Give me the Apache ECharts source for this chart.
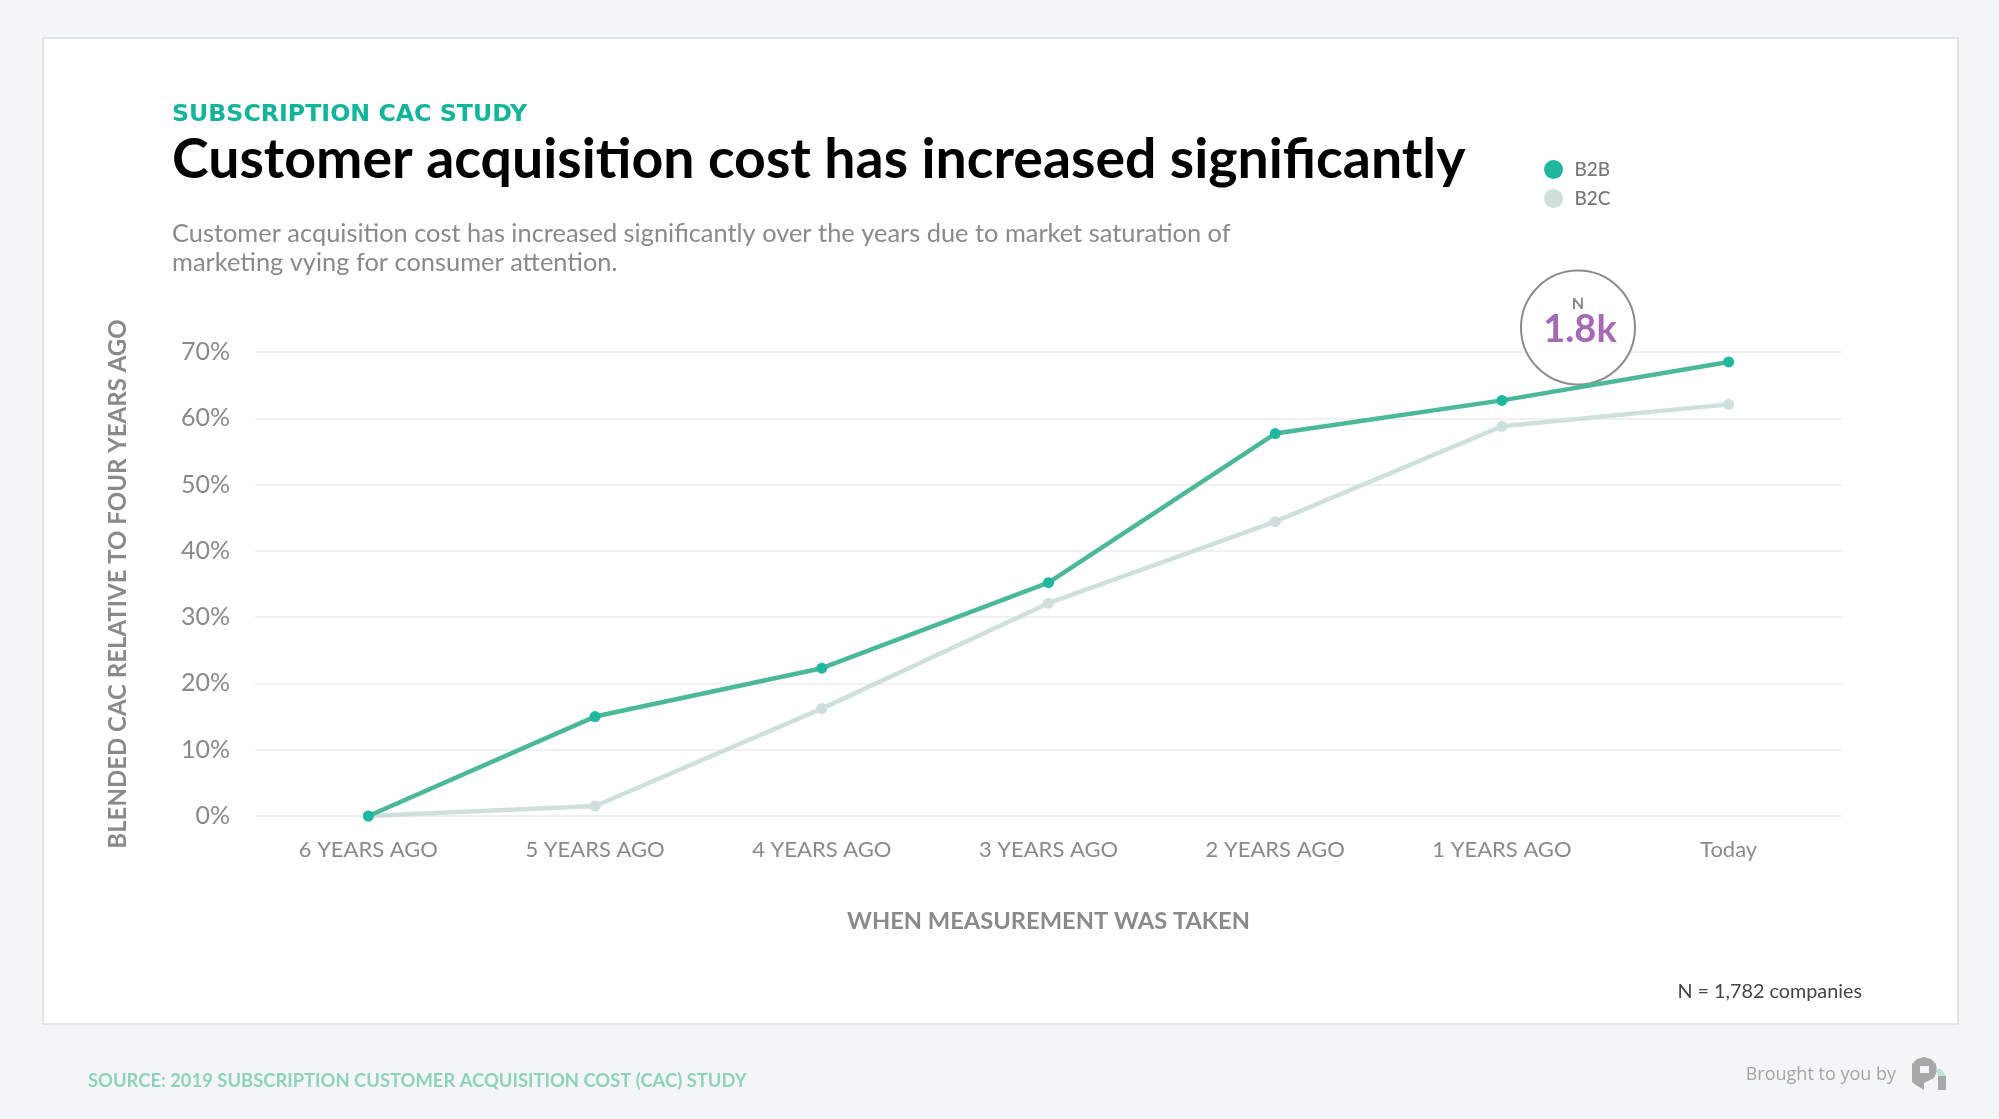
<!DOCTYPE html>
<html>
<head>
<meta charset="utf-8">
<title>Subscription CAC study</title>
<style>
html, body { margin: 0; padding: 0; background: #f4f5f7; }
#chart { width: 1999px; height: 1119px; }
</style>
<script src="https://cdn.jsdelivr.net/npm/echarts@6/dist/echarts.min.js"></script>
</head>
<body>
<div id="chart"></div>
<script>
// values
var categories = ["6 YEARS AGO", "5 YEARS AGO", "4 YEARS AGO", "3 YEARS AGO", "2 YEARS AGO", "1 YEARS AGO", "Today"];
var b2b = [0, 15, 22.3, 35.2, 57.7, 62.7, 68.5];
var b2c = [0, 1.5, 16.2, 32.1, 44.4, 58.8, 62.1];

var green = "#4ab899";
var greenDot = "#1fb89f";
var pale = "#cfdfdb";
var grey = "#8a8a8a";
var font = "Lato";

var chart = echarts.init(document.getElementById("chart"));

var option = {
    backgroundColor: "#f4f5f7",
    animation: false,
    textStyle: { fontFamily: font },
    title: [
        { text: "SUBSCRIPTION CAC STUDY", left: 172, top: 103, padding: 0, textStyle: { fontFamily: "DejaVu Sans", fontSize: 23.7, fontWeight: "bold", color: "#12b59a" } },
        { text: "Customer acquisition cost has increased significantly", left: 172, top: 133, padding: 0, textStyle: { fontFamily: font, fontSize: 55.4, fontWeight: "bold", color: "#000" } },
        { text: "Customer acquisition cost has increased significantly over the years due to market saturation of\nmarketing vying for consumer attention.", left: 172, top: 219, padding: 0, textStyle: { fontFamily: font, fontSize: 25.4, fontWeight: "normal", color: grey, lineHeight: 29 } }
    ],
    legend: {
        orient: "vertical",
        left: 1544,
        top: 160,
        padding: 0,
        itemWidth: 22,
        itemHeight: 19,
        itemGap: 10,
        icon: "circle",
        textStyle: { fontFamily: font, fontSize: 19, fontWeight: 500, color: "#777", padding: [0, 0, 0, 5] },
        data: ["B2B", "B2C"]
    },
    grid: { left: 255, top: 352, width: 1587, height: 464 },
    xAxis: {
        type: "category",
        data: categories,
        name: "WHEN MEASUREMENT WAS TAKEN",
        nameLocation: "middle",
        nameGap: 93,
        nameTextStyle: { fontFamily: font, fontSize: 23.7, fontWeight: "bold", color: grey },
        axisLine: { show: false },
        axisTick: { show: false },
        axisLabel: { fontFamily: font, fontSize: 22, color: grey, margin: 22.5 }
    },
    yAxis: {
        type: "value",
        min: 0,
        max: 70,
        interval: 10,
        name: "BLENDED CAC RELATIVE TO FOUR YEARS AGO",
        nameLocation: "middle",
        nameGap: 124.5,
        nameTextStyle: { fontFamily: font, fontSize: 24, fontWeight: "bold", color: grey },
        axisLine: { show: false },
        axisTick: { show: false },
        axisLabel: { formatter: "{value}%", fontFamily: font, fontSize: 25, color: grey, margin: 25, padding: [3, 0, 0, 0] },
        splitLine: { lineStyle: { color: "#f0f0f0", width: 2 } }
    },
    series: [
        {
            name: "B2C",
            type: "line",
            data: b2c,
            symbol: "circle",
            symbolSize: 11,
            z: 3,
            lineStyle: { color: pale, width: 4.5 },
            itemStyle: { color: pale }
        },
        {
            name: "B2B",
            type: "line",
            data: b2b,
            symbol: "circle",
            symbolSize: 11,
            z: 4,
            lineStyle: { color: green, width: 4.5 },
            itemStyle: { color: greenDot }
        }
    ],
    graphic: [
        // card behind everything
        { type: "rect", z: -10, shape: { x: 43, y: 38, width: 1915, height: 986 }, style: { fill: "#fff", stroke: "#e3e4e6", lineWidth: 2 } },
        // N badge
        { type: "circle", z: 1, shape: { cx: 1578, cy: 327.5, r: 57 }, style: { fill: "#fff", stroke: "#8c8c8c", lineWidth: 2 } },
        { type: "text", z: 1, x: 1578, y: 304, style: { text: "N", fontFamily: font, fontSize: 16, fontWeight: "bold", fill: "#888", align: "center", verticalAlign: "middle" } },
        { type: "text", z: 1, x: 1580, y: 330, style: { text: "1.8k", fontFamily: font, fontSize: 38, fontWeight: "bold", fill: "#a569b5", align: "center", verticalAlign: "middle" } },
        // notes
        { type: "text", x: 1862, y: 992, style: { text: "N = 1,782 companies", fontFamily: font, fontSize: 19.8, fill: "#444", align: "right", verticalAlign: "middle" } },
        { type: "text", x: 88, y: 1081, style: { text: "SOURCE: 2019 SUBSCRIPTION CUSTOMER ACQUISITION COST (CAC) STUDY", fontFamily: font, fontSize: 18.4, fontWeight: "bold", fill: "#8ed2bb", verticalAlign: "middle" } },
        { type: "text", x: 1896, y: 1075, style: { text: "Brought to you by", fontFamily: "Open Sans", fontSize: 18, fill: "#a5a5a5", align: "right", verticalAlign: "middle" } },
        // logo
        { type: "polygon", shape: { points: [[1912, 1064], [1917, 1059], [1924, 1057], [1931, 1059], [1936, 1064], [1937, 1071], [1934, 1078], [1924, 1083], [1924, 1090], [1916, 1085], [1912, 1082]] }, style: { fill: "#a8a8a8" } },
        { type: "rect", z: 1, shape: { x: 1920, y: 1066, width: 9, height: 7 }, style: { fill: "#f4f5f7" } },
        { type: "rect", shape: { x: 1938, y: 1076, width: 8, height: 14 }, style: { fill: "#a8a8a8" } },
        { type: "polygon", shape: { points: [[1936, 1069], [1941, 1069], [1946, 1076], [1938, 1076]] }, style: { fill: "#bfe3d8" } }
    ]
};

chart.setOption(option);
</script>
</body>
</html>
